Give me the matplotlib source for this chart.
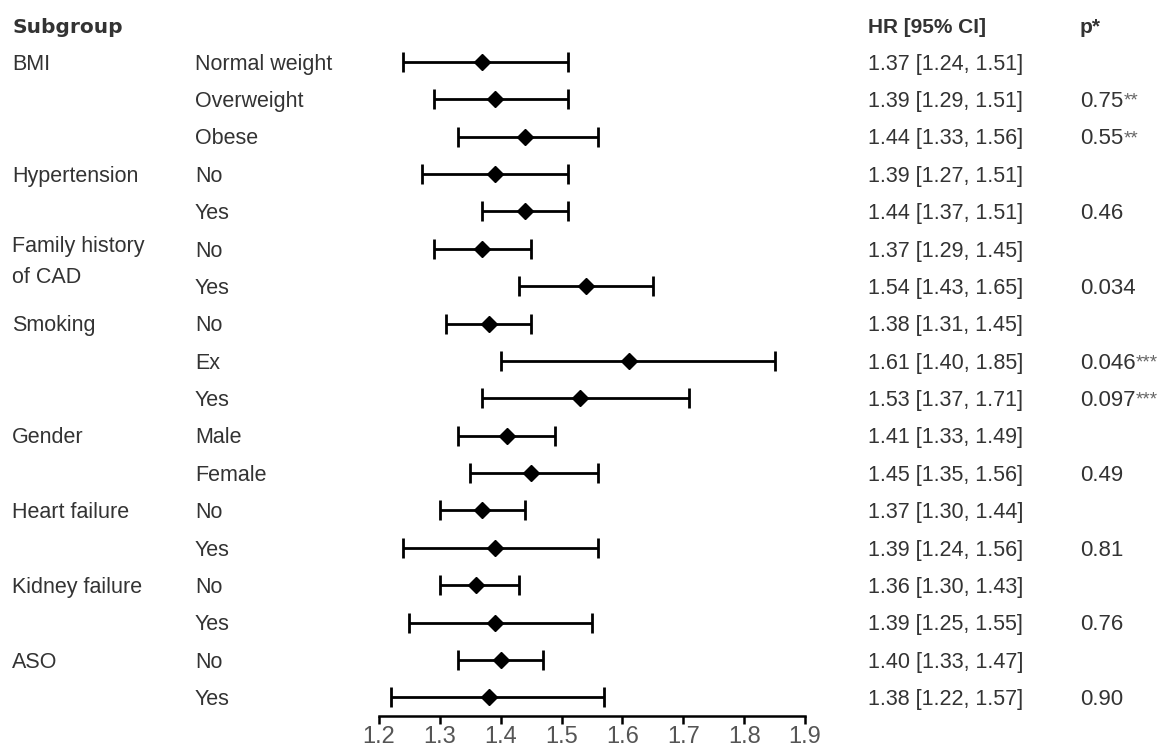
import matplotlib
matplotlib.use('Agg')
import matplotlib.pyplot as plt
from matplotlib.transforms import blended_transform_factory
import numpy as np

# forest plot data, one entry per row (top to bottom)
groups = ['BMI', '', '', 'Hypertension', '', 'Family history\nof CAD', '', 'Smoking', '', '',
          'Gender', '', 'Heart failure', '', 'Kidney failure', '', 'ASO', '']
subgroups = ['Normal weight', 'Overweight', 'Obese', 'No', 'Yes', 'No', 'Yes', 'No', 'Ex', 'Yes',
             'Male', 'Female', 'No', 'Yes', 'No', 'Yes', 'No', 'Yes']
hr = np.array([1.37, 1.39, 1.44, 1.39, 1.44, 1.37, 1.54, 1.38, 1.61, 1.53,
               1.41, 1.45, 1.37, 1.39, 1.36, 1.39, 1.40, 1.38])
ci_lo = np.array([1.24, 1.29, 1.33, 1.27, 1.37, 1.29, 1.43, 1.31, 1.40, 1.37,
                  1.33, 1.35, 1.30, 1.24, 1.30, 1.25, 1.33, 1.22])
ci_hi = np.array([1.51, 1.51, 1.56, 1.51, 1.51, 1.45, 1.65, 1.45, 1.85, 1.71,
                  1.49, 1.56, 1.44, 1.56, 1.43, 1.55, 1.47, 1.57])
p_vals = ['', '0.75**', '0.55**', '', '0.46', '', '0.034', '', '0.046***', '0.097***',
          '', '0.49', '', '0.81', '', '0.76', '', '0.90']
x_ticks = [1.2, 1.3, 1.4, 1.5, 1.6, 1.7, 1.8, 1.9]

W, H = 1162, 754
fig = plt.figure(figsize=(W / 100, H / 100), dpi=100)
ax = fig.add_axes([379 / W, (H - 716) / H, (805 - 379) / W, (716 - 40) / H])

rows = np.arange(len(hr))
ax.errorbar(hr, rows, xerr=[hr - ci_lo, ci_hi - hr], fmt='D', color='black',
            ms=8.5, elinewidth=2, capsize=7, capthick=2)

ax.set_xlim(1.2, 1.9)
ax.set_ylim(17.5, -0.589)
for s in ['top', 'left', 'right']:
    ax.spines[s].set_visible(False)
ax.spines['bottom'].set_bounds(1.2, 1.9)
ax.spines['bottom'].set_linewidth(1.8)
ax.set_yticks([])
ax.set_xticks(x_ticks)
ax.set_xticklabels([f'{t:.1f}' for t in x_ticks], family='Liberation Sans')
ax.tick_params(axis='x', direction='out', length=6, width=1.8, pad=1,
               labelsize=17, labelcolor='#555555')

tr = blended_transform_factory(fig.transFigure, ax.transData)
txt = dict(transform=tr, va='center', ha='left', fontsize=15.5, color='#333333',
           family='Liberation Sans')

head_y = (27 - 62) / 37.37
ax.text(12 / W, head_y, 'Subgroup', **dict(txt, fontweight='bold', family='DejaVu Sans', fontsize=14.5))
ax.text(868 / W, head_y, 'HR [95% CI]', **dict(txt, fontweight='bold', fontsize=15))
ax.text(1080 / W, head_y, 'p*', **dict(txt, fontweight='bold', fontsize=15))

for i in rows:
    y = i + 0.06
    g = groups[i]
    if '\n' in g:
        ax.text(12 / W, i + 0.35, g, linespacing=1.6, **txt)
    elif g:
        ax.text(12 / W, y, g, **txt)
    ax.text(195 / W, y, subgroups[i], **txt)
    ax.text(868 / W, y, f'{hr[i]:.2f} [{ci_lo[i]:.2f}, {ci_hi[i]:.2f}]', **txt)
    if p_vals[i]:
        num = p_vals[i].rstrip('*')
        stars = p_vals[i][len(num):]
        t = ax.text(1080 / W, y, num, **dict(txt, fontsize=16))
        if stars:
            ax.annotate(stars, xy=(1.0, 0.92), xycoords=t, va='top', ha='left',
                        fontsize=13.5, color='#666666', family='Liberation Sans')

fig.savefig('out.png', dpi=100)
